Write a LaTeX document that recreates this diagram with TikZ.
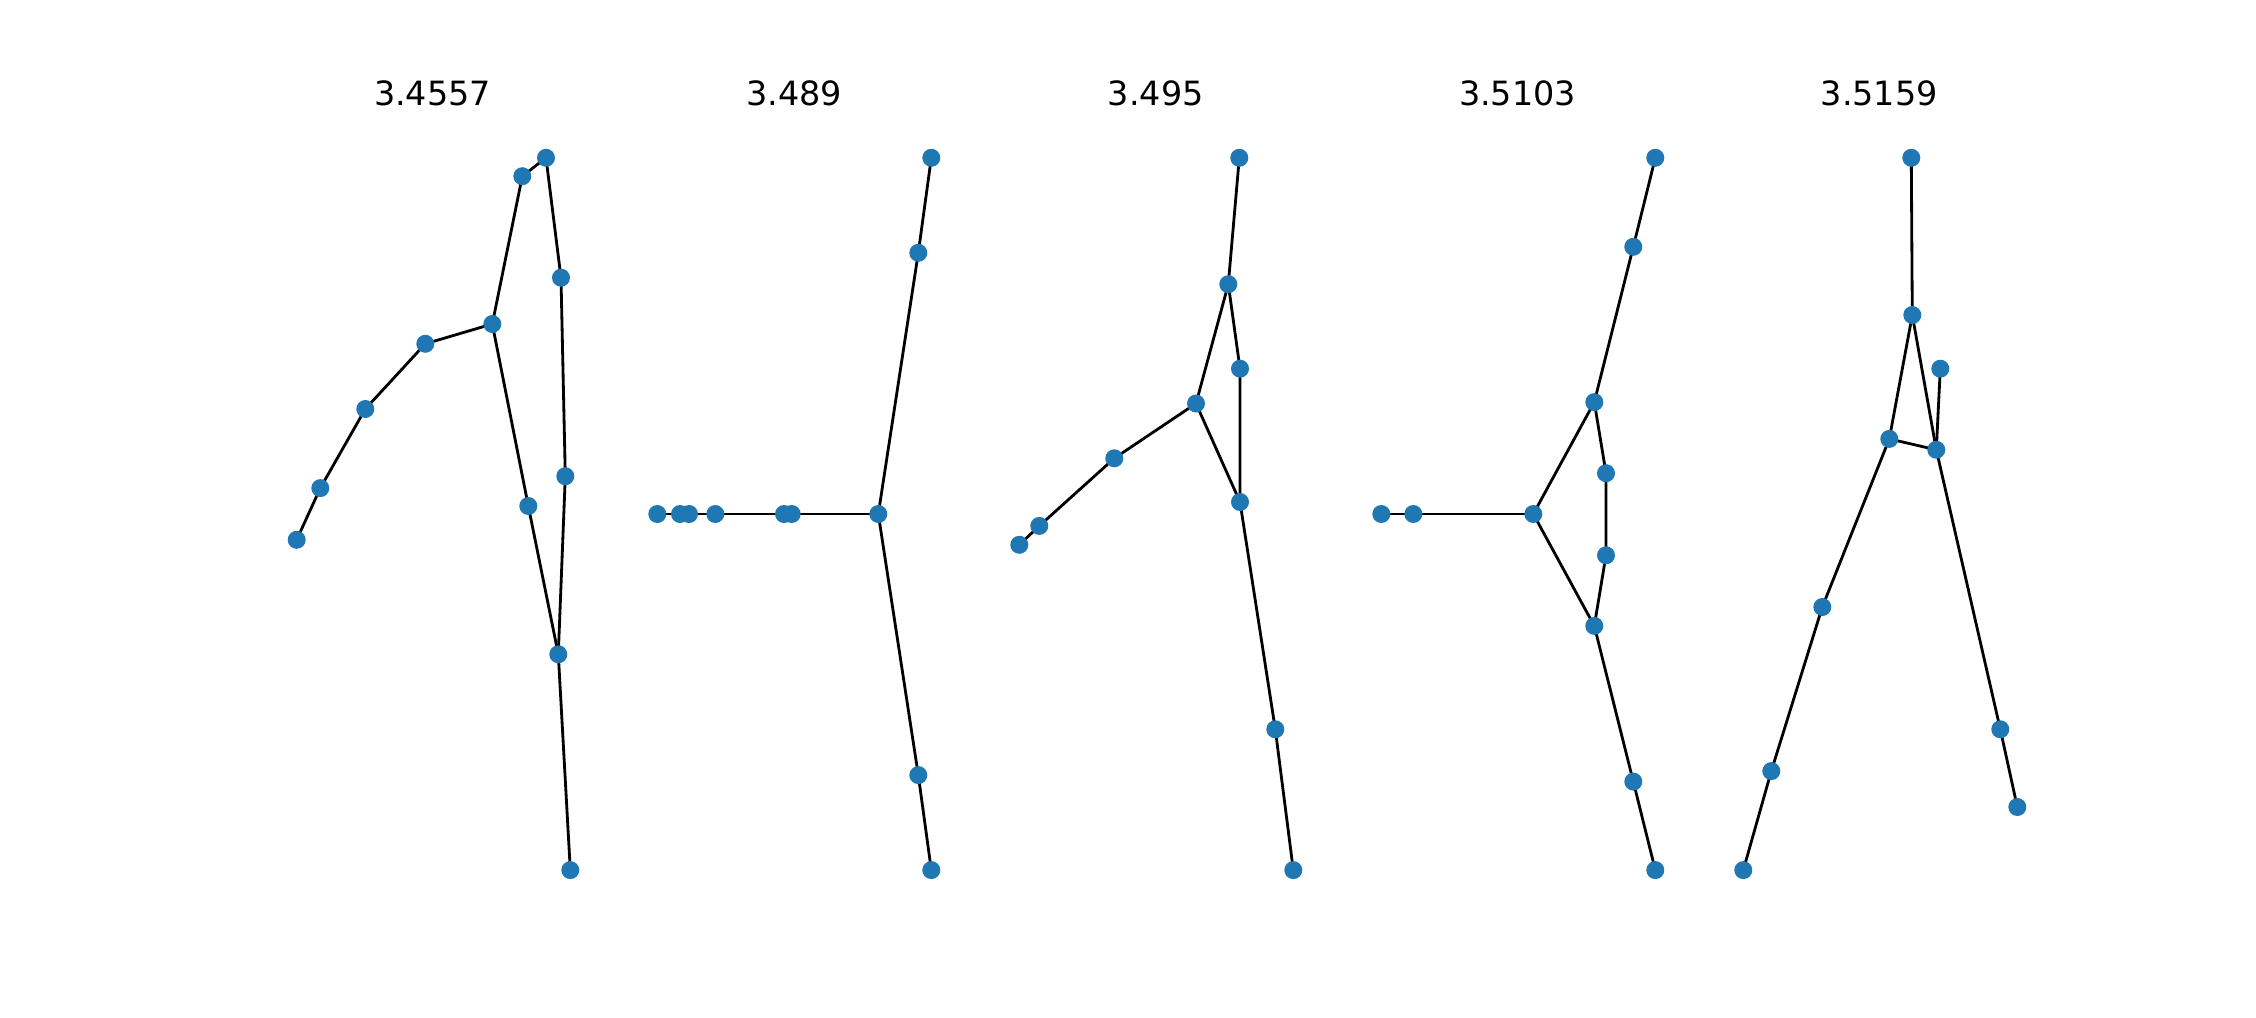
\documentclass[tikz,border=0pt]{standalone}
\usepackage{fontspec}
\setmainfont{DejaVu Sans}
\usetikzlibrary{backgrounds}
\definecolor{nxblue}{HTML}{1F77B4}

\begin{document}
\begin{tikzpicture}[
  x=0.01cm, y=-0.01cm,
  dot/.style={circle, fill=nxblue, inner sep=0pt, minimum size=0.18cm},
  link/.style={black, line width=0.8pt},
  ttl/.style={anchor=base, font=\fontsize{9.5}{11}\selectfont}
]
\useasboundingbox (0,0) rectangle (2256,1018);
% ----- titles -----
\node[ttl] (t1) at (432.5,105) {3.4557};
\node[ttl] (t2) at (794.2,105) {3.489};
\node[ttl] (t3) at (1155.8,105) {3.495};
\node[ttl] (t4) at (1517.5,105) {3.5103};
\node[ttl] (t5) at (1879.2,105) {3.5159};
% ----- Panel 1 -----
\node[dot] (a1) at (546,157.8) {};
\node[dot] (a2) at (522.3,176.2) {};
\node[dot] (a3) at (561,277.7) {};
\node[dot] (a4) at (492.3,324) {};
\node[dot] (a5) at (425.3,343.8) {};
\node[dot] (a6) at (365.3,409) {};
\node[dot] (a7) at (320.3,488.1) {};
\node[dot] (a8) at (296.7,539.8) {};
\node[dot] (a9) at (528.3,506) {};
\node[dot] (a10) at (565.3,476.2) {};
\node[dot] (a11) at (558.3,654.3) {};
\node[dot] (a12) at (570.3,870.1) {};
% ----- Panel 2 -----
\node[dot] (b1) at (931.3,157.8) {};
\node[dot] (b2) at (918.3,252.8) {};
\node[dot] (b3) at (878.3,514) {};
\node[dot] (b4) at (918.3,775.1) {};
\node[dot] (b5) at (931.3,870.1) {};
\node[dot] (b6) at (791.7,514) {};
\node[dot] (b7) at (784,514) {};
\node[dot] (b8) at (715.3,514) {};
\node[dot] (b9) at (689,514) {};
\node[dot] (b10) at (680,514) {};
\node[dot] (b11) at (657.3,514) {};
% ----- Panel 3 -----
\node[dot] (c1) at (1239.3,157.8) {};
\node[dot] (c2) at (1228.3,284.2) {};
\node[dot] (c3) at (1240,368.7) {};
\node[dot] (c4) at (1196,403.5) {};
\node[dot] (c5) at (1114.3,458.3) {};
\node[dot] (c6) at (1039.3,525.9) {};
\node[dot] (c7) at (1019.3,544.8) {};
\node[dot] (c8) at (1240,502) {};
\node[dot] (c9) at (1275.3,729.3) {};
\node[dot] (c10) at (1293.3,870.1) {};
% ----- Panel 4 -----
\node[dot] (d1) at (1655.3,157.8) {};
\node[dot] (d2) at (1633.3,246.8) {};
\node[dot] (d3) at (1594.3,402.1) {};
\node[dot] (d4) at (1606,473.2) {};
\node[dot] (d5) at (1606,555.3) {};
\node[dot] (d6) at (1594.3,625.9) {};
\node[dot] (d7) at (1633.3,781.6) {};
\node[dot] (d8) at (1655.3,870.1) {};
\node[dot] (d9) at (1533.3,514) {};
\node[dot] (d10) at (1413.3,514) {};
\node[dot] (d11) at (1381.3,514) {};
% ----- Panel 5 -----
\node[dot] (e1) at (1911.3,157.8) {};
\node[dot] (e2) at (1912.3,315) {};
\node[dot] (e3) at (1940.3,368.7) {};
\node[dot] (e4) at (1889.3,438.9) {};
\node[dot] (e5) at (1936.3,449.8) {};
\node[dot] (e6) at (1822.3,607) {};
\node[dot] (e7) at (1771.3,771.1) {};
\node[dot] (e8) at (1743.3,870.1) {};
\node[dot] (e9) at (2000.3,729.3) {};
\node[dot] (e10) at (2017.3,807) {};
% ----- edges, under the dots -----
\begin{scope}[on background layer]
\draw[link] (a8.center) -- (a7.center) -- (a6.center) -- (a5.center) -- (a4.center);
\draw[link] (a4.center) -- (a2.center) -- (a1.center) -- (a3.center) -- (a10.center) -- (a11.center);
\draw[link] (a4.center) -- (a9.center) -- (a11.center) -- (a12.center);
\draw[link] (b1.center) -- (b2.center) -- (b3.center) -- (b4.center) -- (b5.center);
\draw[link] (b3.center) -- (b6.center) -- (b7.center) -- (b8.center) -- (b9.center) -- (b10.center) -- (b11.center);
\draw[link] (c1.center) -- (c2.center) -- (c3.center) -- (c8.center) -- (c9.center) -- (c10.center);
\draw[link] (c2.center) -- (c4.center) -- (c8.center);
\draw[link] (c4.center) -- (c5.center) -- (c6.center) -- (c7.center);
\draw[link] (d1.center) -- (d2.center) -- (d3.center) -- (d4.center) -- (d5.center) -- (d6.center) -- (d7.center) -- (d8.center);
\draw[link] (d3.center) -- (d9.center) -- (d6.center);
\draw[link] (d9.center) -- (d10.center) -- (d11.center);
\draw[link] (e1.center) -- (e2.center) -- (e4.center) -- (e5.center) -- (e2.center);
\draw[link] (e3.center) -- (e5.center) -- (e9.center) -- (e10.center);
\draw[link] (e4.center) -- (e6.center) -- (e7.center) -- (e8.center);
\end{scope}
\end{tikzpicture}
\end{document}
